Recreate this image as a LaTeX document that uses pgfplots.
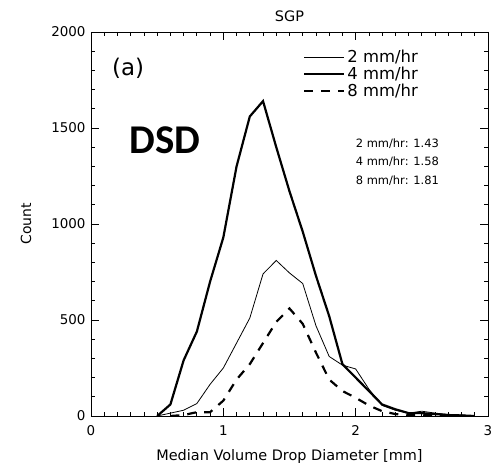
\documentclass[border=0pt]{standalone}
\usepackage{fontspec}
\setmainfont{DejaVu Sans}
\newfontfamily\calfont{Carlito}
\usepackage{pgfplots}
\pgfplotsset{compat=1.18}
\begin{document}
\begin{tikzpicture}
\begin{axis}[
  scale only axis,
  width=397bp, height=384bp,
  xmin=0, xmax=3, ymin=0, ymax=2000,
  xtick={0,1,2,3}, ytick={0,500,1000,1500,2000},
  minor x tick num=9, minor y tick num=4,
  tick align=inside,
  major tick length=8bp, minor tick length=4bp,
  every tick/.style={black, line width=0.8pt},
  axis line style={line width=0.9pt},
  /pgf/number format/assume math mode=true,
  /pgf/number format/1000 sep={},
  tick label style={font=\fontsize{13.5}{14}\selectfont},
  xticklabel style={yshift=-6bp},
  yticklabel style={xshift=-2bp},
  title={SGP},
  title style={font=\fontsize{14.5}{14.5}\selectfont, yshift=1bp},
  xlabel={Median Volume Drop Diameter [mm]},
  xlabel style={font=\fontsize{14.5}{15}\selectfont, yshift=-7bp},
  ylabel={Count},
  ylabel style={font=\fontsize{14}{15}\selectfont, yshift=13bp},
  legend style={at={(0.534,0.958)}, anchor=north west, draw=none, fill=none,
    font=\fontsize{16.5}{17}\selectfont, inner sep=0pt, row sep=-1bp,
    /tikz/every even column/.append style={column sep=0pt}},
  legend cell align=left,
  legend image code/.code={\draw[#1] (0bp,0bp) -- (40bp,0bp);},
]
\addplot[black, line width=0.8pt] coordinates {
(0.5,0) (0.6,15) (0.7,30) (0.8,65) (0.9,165) (1.0,250) (1.1,380) (1.2,510)
(1.3,740) (1.4,810) (1.5,745) (1.6,690) (1.7,470) (1.8,310) (1.9,265)
(2.0,245) (2.1,140) (2.2,55) (2.3,30) (2.4,15) (2.5,25) (2.6,15) (2.7,8)
(2.8,5) (2.9,0)};
\addlegendentry{2 mm/hr}
\addplot[black, line width=2.2pt] coordinates {
(0.5,0) (0.6,60) (0.7,290) (0.8,440) (0.9,700) (1.0,930) (1.1,1300) (1.2,1560)
(1.3,1640) (1.4,1400) (1.5,1170) (1.6,960) (1.7,730) (1.8,520) (1.9,270)
(2.0,200) (2.1,130) (2.2,60) (2.3,35) (2.4,15) (2.5,15) (2.6,10) (2.7,5)
(2.8,3) (2.9,0)};
\addlegendentry{4 mm/hr}
\addplot[black, line width=2.2pt, dash pattern=on 9bp off 8bp] coordinates {
(0.6,0) (0.7,5) (0.8,20) (0.9,20) (1.0,80) (1.1,190) (1.2,270) (1.3,380)
(1.4,490) (1.5,560) (1.6,480) (1.7,330) (1.8,190) (1.9,130) (2.0,95)
(2.1,55) (2.2,25) (2.3,10) (2.4,5) (2.5,5) (2.6,2) (2.7,0) (2.9,0)};
\addlegendentry{8 mm/hr}
\node[font=\fontsize{23}{23}\selectfont] at (axis cs:0.28,1812) {(a)};
\node[font=\calfont\bfseries\fontsize{41}{41}\selectfont] at (axis cs:0.56,1437) {DSD};
\node[anchor=west, align=left, inner sep=0pt, font=\fontsize{11.5}{18.5}\selectfont] at (axis cs:2.0,1323)
  {2 mm/hr: 1.43\\4 mm/hr: 1.58\\8 mm/hr: 1.81};
\end{axis}
\pgfresetboundingbox
\path[use as bounding box] ([xshift=-91bp,yshift=-49bp]current axis.south west) rectangle ([xshift=6bp,yshift=32bp]current axis.north east);
\end{tikzpicture}
\end{document}
